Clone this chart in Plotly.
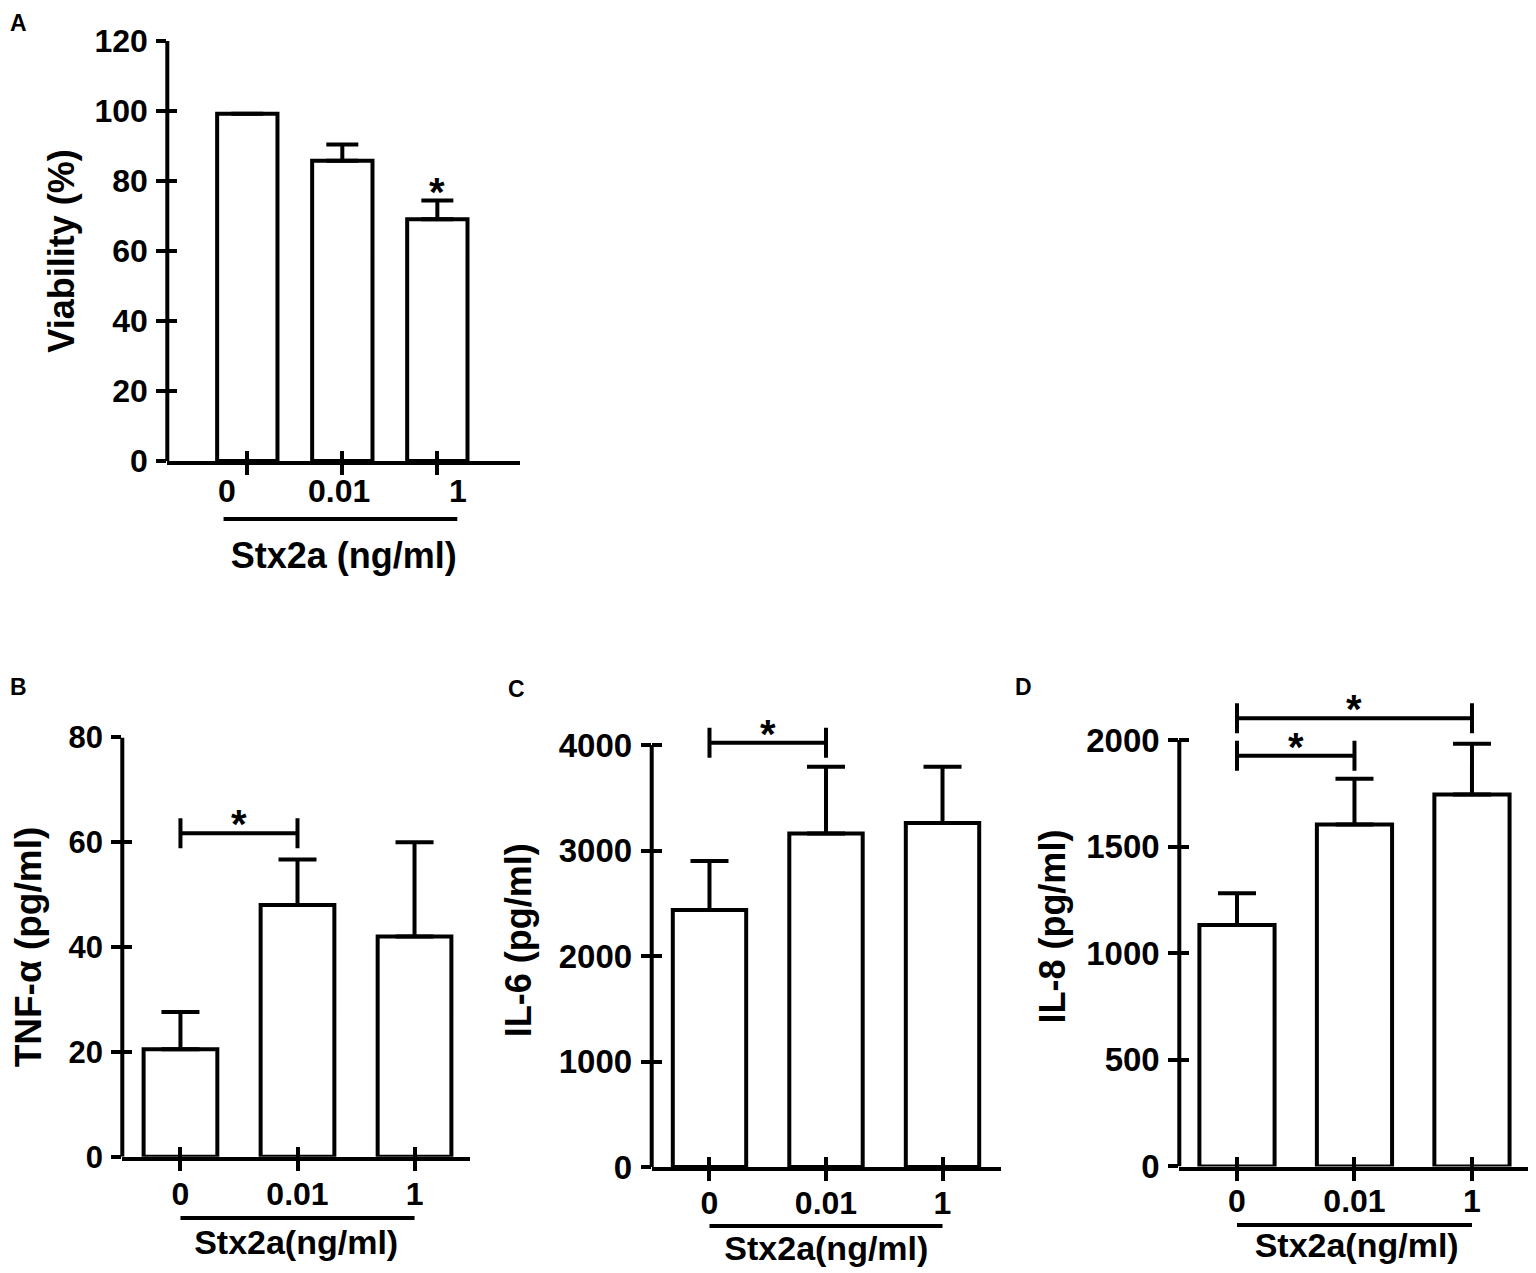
import plotly.graph_objects as go

W, H = 1536, 1273
OFF = 8                      # page body margin of the browser
FW, FH = W - OFF, H - OFF    # figure size


def fx(px):
    return (px - OFF) / FW


def fy(py):
    return 1 - (py - OFF) / FH


# ---------------- data ----------------
doses = ["0", "0.01", "1"]
dose_pos = [0, 1, 2]

viability_mean = [99.2, 85.8, 69.1]
viability_sem = [0, 4.6, 5.3]
viability_sig = [2]  # bar index marked with *

tnf_mean = [20.5, 48.0, 42.0]
tnf_sem = [7.1, 8.7, 18.0]
tnf_pairs = [(0, 1)]
tnf_pair_y = [61.7]

il6_mean = [2435, 3160, 3260]
il6_sem = [465, 635, 535]
il6_pairs = [(0, 1)]
il6_pair_y = [4022]

il8_mean = [1132, 1604, 1745]
il8_sem = [149, 214, 238]
il8_pairs = [(0, 1), (0, 2)]
il8_pair_y = [1926, 2102]

# ---------------- layout geometry (reference px) ----------------
panels = [
    dict(letter="A", mean=viability_mean, sem=viability_sem, pairs=[], pair_y=[], sig=viability_sig,
         ytitle="Viability (%)", xtitle="Stx2a (ng/ml)", xpx=(167.3, 520), ypx=(41, 461),
         yrange=[0, 120], dtick=20, ytop=120, xrange=[-0.842, 2.87], bw=0.635, cap=16,
         ytf=32, xtf=32, ytitf=36, xtitf=36, line_y=519, line_x=(-0.25, 2.21),
         xstand=0, xtstand=70, ytstand=8, letter_xy=(OFF, OFF)),
    dict(letter="B", mean=tnf_mean, sem=tnf_sem, pairs=tnf_pairs, pair_y=tnf_pair_y, sig=[],
         ytitle="TNF-α (pg/ml)", xtitle="Stx2a(ng/ml)", xpx=(122.3, 470), ypx=(737.4, 1156.7),
         yrange=[0, 80], dtick=20, ytop=80, xrange=[-0.497, 2.474], bw=0.63, cap=19,
         ytf=31, xtf=32, ytitf=37, xtitf=34, line_y=1218, line_x=(0, 2),
         xstand=-4, xtstand=20, ytstand=16, letter_xy=(OFF, 672)),
    dict(letter="C", mean=il6_mean, sem=il6_sem, pairs=il6_pairs, pair_y=il6_pair_y, sig=[],
         ytitle="IL-6 (pg/ml)", xtitle="Stx2a(ng/ml)", xpx=(651.7, 1001), ypx=(1167 - 4300 * 0.1055, 1167),
         yrange=[0, 4300], dtick=1000, ytop=4000, xrange=[-0.496, 2.502], bw=0.63, cap=19,
         ytf=33, xtf=32, ytitf=36, xtitf=34, line_y=1226, line_x=(0, 2),
         xstand=-5, xtstand=17, ytstand=16, letter_xy=(506, 674)),
    dict(letter="D", mean=il8_mean, sem=il8_sem, pairs=il8_pairs, pair_y=il8_pair_y, sig=[],
         ytitle="IL-8 (pg/ml)", xtitle="Stx2a(ng/ml)", xpx=(1179.3, 1534), ypx=(1166.5 - 2250 * 0.21325, 1166.5),
         yrange=[0, 2250], dtick=500, ytop=2000, xrange=[-0.491, 2.528], bw=0.64, cap=19,
         ytf=33, xtf=32, ytitf=36, xtitf=34, line_y=1225, line_x=(0, 2),
         xstand=-7, xtstand=16, ytstand=9, letter_xy=(1013, 672)),
]

FONT = "Arial, Liberation Sans, Helvetica, sans-serif"
LW = 4
STAR = dict(size=40, family=FONT, weight="bold", color="black")

fig = go.Figure()
layout = dict(template="none", width=FW, height=FH, margin=dict(l=0, r=0, t=0, b=0, pad=0),
              autosize=False, paper_bgcolor="white", plot_bgcolor="white", showlegend=False,
              font=dict(family=FONT, color="black"))
shapes = []
annotations = []

for i, p in enumerate(panels):
    n = i + 1
    sfx = "" if n == 1 else str(n)
    xa, ya = "x" + sfx, "y" + sfx
    ox, oy = "x%d" % (n + 4), "y%d" % (n + 4)
    xdom = [fx(p["xpx"][0]), fx(p["xpx"][1])]
    ydom = [fy(p["ypx"][1]), fy(p["ypx"][0])]
    ytickvals = list(range(0, p["ytop"] + 1, p["dtick"]))

    # bars with upward error bars
    fig.add_trace(go.Bar(
        x=dose_pos, y=p["mean"], width=p["bw"], xaxis=xa, yaxis=ya,
        marker=dict(color="white", line=dict(color="black", width=LW)),
        error_y=dict(type="data", array=p["sem"], arrayminus=[0] * len(p["sem"]),
                     symmetric=False, color="black", thickness=LW, width=p["cap"]),
        hoverinfo="skip"))

    # invisible traces so the overlay tick axes get drawn
    fig.add_trace(go.Scatter(x=[dose_pos[0]], y=[0], xaxis=ox, yaxis=ya, mode="markers",
                             marker=dict(size=1, opacity=0), hoverinfo="skip"))
    fig.add_trace(go.Scatter(x=[dose_pos[0]], y=[0], xaxis=xa, yaxis=oy, mode="markers",
                             marker=dict(size=1, opacity=0), hoverinfo="skip"))

    # significance brackets
    for (a, b), yy in zip(p["pairs"], p["pair_y"]):
        fig.add_trace(go.Scatter(
            x=[(a + b) / 2], y=[yy], mode="markers", xaxis=xa, yaxis=ya,
            marker=dict(size=1, opacity=0), cliponaxis=False, hoverinfo="skip",
            error_x=dict(type="data", array=[(b - a) / 2], color="black",
                         thickness=LW, width=15)))
        annotations.append(dict(x=(a + b) / 2, y=yy, xref=xa, yref=ya, text="*",
                                showarrow=False, yshift=9, font=STAR))
    for k in p["sig"]:
        annotations.append(dict(x=dose_pos[k], y=p["mean"][k] + p["sem"][k], xref=xa, yref=ya,
                                text="*", showarrow=False, yshift=9, font=STAR))

    show_xlabels = p["letter"] != "A"
    layout["xaxis" + sfx] = dict(
        domain=xdom, range=p["xrange"], anchor=ya, tickmode="array",
        tickvals=dose_pos, ticktext=doses, showticklabels=show_xlabels,
        ticks="outside", ticklen=10, tickwidth=LW, tickcolor="black",
        showline=True, linewidth=LW, linecolor="black", showgrid=False, zeroline=False,
        automargin=False,
        tickfont=dict(size=p["xtf"], family=FONT, weight="bold", color="black"),
        ticklabelstandoff=p["xstand"],
        title=dict(text=p["xtitle"], font=dict(size=p["xtitf"], family=FONT, weight="bold", color="black"),
                   standoff=p["xtstand"]),
        fixedrange=True)
    layout["yaxis" + sfx] = dict(
        domain=ydom, range=p["yrange"], anchor=xa, tickmode="array",
        tickvals=ytickvals, ticks="outside", ticklen=10, tickwidth=LW, tickcolor="black",
        showline=False, showgrid=False, zeroline=False, automargin=False,
        tickfont=dict(size=p["ytf"], family=FONT, weight="bold", color="black"),
        ticklabelstandoff=2,
        title=dict(text=p["ytitle"], font=dict(size=p["ytitf"], family=FONT, weight="bold", color="black"),
                   standoff=p["ytstand"]),
        fixedrange=True)
    # overlay axes: the inner half of the crossing ticks
    layout["xaxis%d" % (n + 4)] = dict(
        overlaying=xa, anchor=ya, range=p["xrange"], tickmode="array", tickvals=dose_pos,
        ticks="inside", ticklen=10, tickwidth=LW, tickcolor="black", showticklabels=False,
        showline=False, showgrid=False, zeroline=False, fixedrange=True, automargin=False,
        side="bottom")
    layout["yaxis%d" % (n + 4)] = dict(
        overlaying=ya, anchor=xa, range=p["yrange"], tickmode="array", tickvals=ytickvals,
        ticks="inside", ticklen=10, tickwidth=LW, tickcolor="black", showticklabels=False,
        showline=False, showgrid=False, zeroline=False, fixedrange=True, automargin=False,
        side="left")

    # y axis line ending at the top tick
    shapes.append(dict(type="line", xref=xa + " domain", yref=ya, x0=0, x1=0,
                       y0=0, y1=p["ytop"], line=dict(color="black", width=LW)))
    # line under the dose labels
    yl = fy(p["line_y"])
    shapes.append(dict(type="line", xref=xa, yref="paper", x0=p["line_x"][0], x1=p["line_x"][1],
                       y0=yl, y1=yl, line=dict(color="black", width=LW)))
    # panel letter
    lx, ly = p["letter_xy"]
    annotations.append(dict(x=fx(lx), y=fy(ly), xref="paper", yref="paper", text=p["letter"],
                            showarrow=False, xanchor="left", yanchor="top",
                            font=dict(size=23, family=FONT, weight="bold", color="black")))

# panel A dose labels (offset as in the original)
a_shifts = [-20, -3, 21]
for xp, lab, sh in zip(dose_pos, doses, a_shifts):
    annotations.append(dict(x=xp, y=0, xref="x", yref="y", text=lab, showarrow=False,
                            xshift=sh, yshift=-10, yanchor="top",
                            font=dict(size=32, family=FONT, weight="bold", color="black")))

layout["shapes"] = shapes
layout["annotations"] = annotations
fig.update_layout(**layout)

fig.write_html("out.html")
